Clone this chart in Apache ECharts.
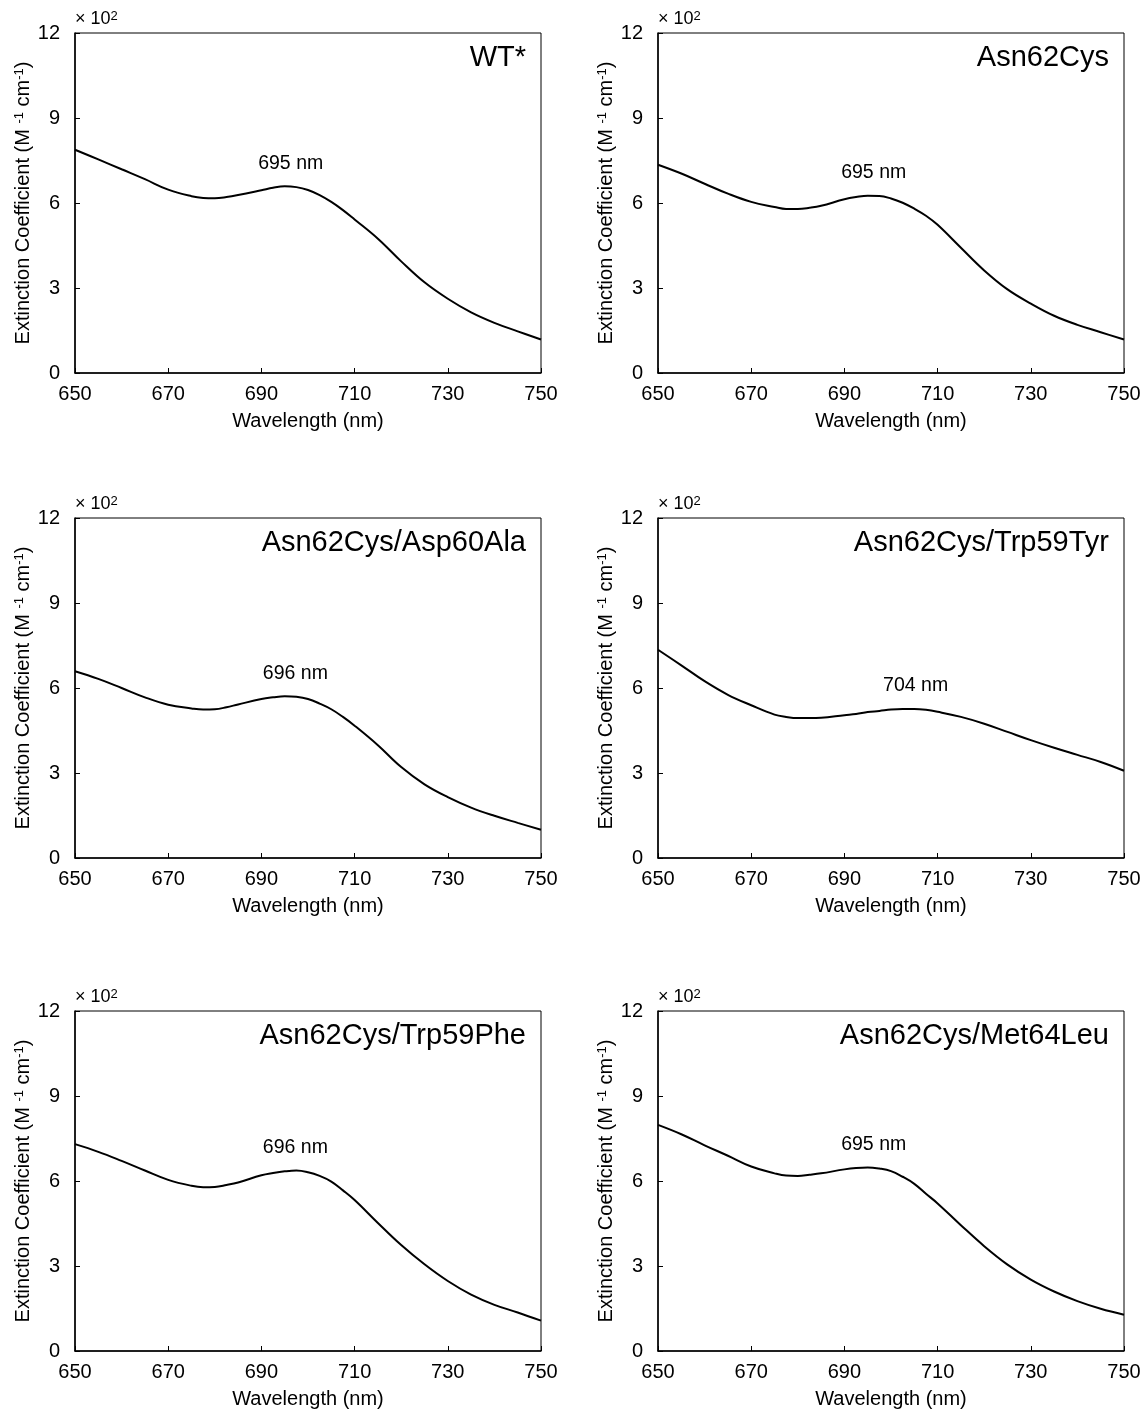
<!DOCTYPE html>
<html>
<head>
<meta charset="utf-8">
<title>Extinction spectra</title>
<script src="https://cdn.jsdelivr.net/npm/echarts@6/dist/echarts.min.js"></script>
<style>
  html, body { margin: 0; padding: 0; background: #fff; }
  #main { width: 1144px; height: 1412px; }
</style>
</head>
<body>
<div id="main"></div>
<script>
// wavelength (nm); denser around the dip and the peak
var wavelengths = [650, 655, 660, 665, 670, 675, 677.5, 680, 682.5, 685, 690, 692.5, 695, 697.5, 700, 702.5, 705, 707.5, 710, 715, 720, 725, 730, 735, 740, 745, 750];

// extinction coefficient, x 10^2 M-1 cm-1
var wt =       [7.88, 7.54, 7.19, 6.84, 6.47, 6.24, 6.18, 6.17, 6.21, 6.28, 6.45, 6.54, 6.59, 6.56, 6.46, 6.28, 6.04, 5.75, 5.42, 4.74, 3.94, 3.20, 2.62, 2.14, 1.77, 1.47, 1.18];
var n62c =     [7.35, 7.04, 6.68, 6.33, 6.04, 5.86, 5.79, 5.79, 5.83, 5.90, 6.13, 6.21, 6.26, 6.25, 6.16, 6.01, 5.80, 5.55, 5.23, 4.42, 3.62, 2.95, 2.45, 2.02, 1.70, 1.44, 1.18];
var n62cD60a = [6.59, 6.32, 6.00, 5.67, 5.41, 5.28, 5.24, 5.25, 5.32, 5.42, 5.61, 5.67, 5.71, 5.69, 5.61, 5.45, 5.25, 4.98, 4.67, 3.98, 3.21, 2.60, 2.15, 1.78, 1.49, 1.24, 1.00];
var n62cW59y = [7.35, 6.80, 6.24, 5.76, 5.39, 5.06, 4.98, 4.94, 4.94, 4.95, 5.04, 5.08, 5.15, 5.19, 5.24, 5.26, 5.26, 5.23, 5.16, 4.98, 4.74, 4.45, 4.16, 3.89, 3.64, 3.39, 3.08];
var n62cW59f = [7.30, 7.03, 6.71, 6.37, 6.04, 5.83, 5.78, 5.79, 5.86, 5.95, 6.20, 6.28, 6.34, 6.37, 6.31, 6.18, 5.98, 5.67, 5.33, 4.52, 3.74, 3.06, 2.47, 1.99, 1.63, 1.36, 1.07];
var n62cM64l = [7.98, 7.65, 7.26, 6.89, 6.51, 6.27, 6.19, 6.18, 6.22, 6.27, 6.41, 6.46, 6.48, 6.44, 6.35, 6.15, 5.90, 5.55, 5.21, 4.44, 3.70, 3.05, 2.52, 2.10, 1.76, 1.49, 1.28];

var panelNames = ['WT*', 'Asn62Cys', 'Asn62Cys/Asp60Ala', 'Asn62Cys/Trp59Tyr', 'Asn62Cys/Trp59Phe', 'Asn62Cys/Met64Leu'];
var peakNm = [695, 695, 696, 704, 696, 695];
var xTicks = [650, 750, 20];   // min, max, step
var yTicks = [0, 12, 3];

var spectra = [wt, n62c, n62cD60a, n62cW59y, n62cW59f, n62cM64l];

(function () {
    var FONT = '"Liberation Sans", Arial, sans-serif';
    var colLeft = [75, 658];
    var rowTop = [33, 518, 1011];
    var plotW = 466, plotH = 340;
    var supStyle = { fontSize: 13, fontFamily: FONT, color: '#000', verticalAlign: 'top', lineHeight: 12 };

    // value of the curve at a given wavelength (for placing the peak label)
    function valueAt(xs, ys, x) {
        for (var k = 0; k < xs.length - 1; k++) {
            if (x >= xs[k] && x <= xs[k + 1]) {
                var t = (x - xs[k]) / (xs[k + 1] - xs[k]);
                return ys[k] + (ys[k + 1] - ys[k]) * t;
            }
        }
        return ys[ys.length - 1];
    }

    var myChart = echarts.init(document.getElementById('main'));

    var grids = [], xAxes = [], yAxes = [], series = [], titles = [];

    for (var i = 0; i < spectra.length; i++) {
        var gx = colLeft[i % 2], gy = rowTop[Math.floor(i / 2)];

        grids.push({
            left: gx, top: gy, width: plotW, height: plotH,
            show: true, borderColor: '#000', borderWidth: 1, backgroundColor: 'transparent'
        });

        xAxes.push({
            gridIndex: i, type: 'value',
            min: xTicks[0], max: xTicks[1], interval: xTicks[2],
            name: 'Wavelength (nm)', nameLocation: 'middle', nameGap: 38,
            nameTextStyle: { color: '#000', fontSize: 20, fontFamily: FONT },
            axisLine: { lineStyle: { color: '#000', width: 1.5 } },
            axisTick: { inside: true, length: 5, lineStyle: { color: '#000' } },
            axisLabel: { color: '#000', fontSize: 20, fontFamily: FONT, margin: 11 },
            splitLine: { show: false }
        });

        yAxes.push({
            gridIndex: i, type: 'value',
            min: yTicks[0], max: yTicks[1], interval: yTicks[2],
            name: 'Extinction Coefficient (M {sup|-1} cm{sup|-1})',
            nameLocation: 'middle', nameRotate: 90, nameGap: 42,
            nameTextStyle: {
                color: '#000', fontSize: 20, fontFamily: FONT,
                rich: { sup: supStyle }
            },
            axisLine: { lineStyle: { color: '#000', width: 1.5 } },
            axisTick: { inside: true, length: 5, lineStyle: { color: '#000' } },
            axisLabel: { color: '#000', fontSize: 20, fontFamily: FONT, margin: 15 },
            splitLine: { show: false }
        });

        var vals = spectra[i];
        var pts = [];
        for (var j = 0; j < wavelengths.length; j++) {
            pts.push([wavelengths[j], vals[j]]);
        }

        series.push({
            type: 'line',
            xAxisIndex: i, yAxisIndex: i,
            data: pts,
            smooth: 0.4,
            showSymbol: false,
            lineStyle: { color: '#000', width: 2 },
            markPoint: {
                symbol: 'circle', symbolSize: 0,
                label: {
                    show: true, position: 'top', distance: 13,
                    color: '#000', fontSize: 19.5, fontFamily: FONT,
                    formatter: peakNm[i] + ' nm', offset: [6, 0]
                },
                data: [{ coord: [peakNm[i], valueAt(wavelengths, vals, peakNm[i])] }]
            }
        });

        // panel name, upper right
        titles.push({
            text: panelNames[i],
            right: 1144 - (gx + plotW) + 15, top: gy + 10, padding: 0,
            textStyle: { color: '#000', fontSize: 29, fontWeight: 'normal', fontFamily: FONT }
        });
        // exponent note above the y axis
        titles.push({
            text: '× 10{sup|2}',
            left: gx, top: gy - 23, padding: 0,
            textStyle: {
                color: '#000', fontSize: 18, fontWeight: 'normal', fontFamily: FONT,
                rich: { sup: supStyle }
            }
        });
    }

    var option = {
        backgroundColor: '#fff',
        animation: false,
        title: titles,
        grid: grids,
        xAxis: xAxes,
        yAxis: yAxes,
        series: series
    };

    myChart.setOption(option);
    window.addEventListener('resize', function () {
        myChart.resize();
    });
})();
</script>
</body>
</html>
